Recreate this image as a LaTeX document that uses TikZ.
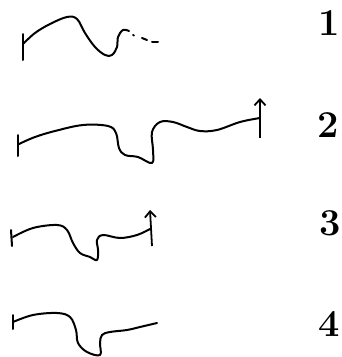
\documentclass[tikz,border=0pt]{standalone}
\usetikzlibrary{arrows.meta}
\tikzset{
  sketch/.style={line width=2pt, line cap=round, line join=round},
  tick/.style={line width=2pt, line cap=round},
  upar/.style={line width=1.8pt, -{Straight Barb[length=6pt,width=11pt,line width=1.8pt]}},
  numlabel/.style={font=\fontsize{38}{38}\selectfont\bfseries, inner sep=0pt}
}
\begin{document}
\begin{tikzpicture}[x=1pt,y=-1pt]
\useasboundingbox (0,0) rectangle (341,357);
% --- 1 ---
\draw[tick] (23,34) -- (23,60);
\draw[sketch] plot[smooth, tension=0.6] coordinates {(23,44) (35,33) (50,24) (67,17) (77,19) (85,33) (95,47) (105,55) (112,55) (117,47) (118,37) (123,30) (129,31)};
\draw[sketch] (133,35) -- (134,35.5);
\draw[sketch] (142,38) -- (147,40);
\draw[sketch] (152,42) -- (158,42);
\node[numlabel] (n1) at (329,23) {1};
% --- 2 ---
\draw[tick] (18,135) -- (18,156);
\draw[sketch] plot[smooth, tension=0.6] coordinates {(19,144) (35,137) (55,131) (83,125) (108,126) (116,133) (119,148) (125,155) (138,157) (152,163) (153,150) (152,132) (160,122) (173,122) (187,127) (200,131) (217,130) (240,122) (260,118)};
\coordinate (a2s) at (260,138);
\coordinate (a2e) at (260,98);
\draw[upar] (a2s) -- (a2e);
\node[numlabel] (n2) at (328,125) {2};
% --- 3 ---
\draw[tick] (11,230) -- (12,246);
\draw[sketch] plot[smooth, tension=0.6] coordinates {(13,237) (33,228) (57,225) (67,230) (73,243) (80,253) (90,257) (97,260) (98,250) (97,240) (103,235) (120,238) (137,235) (150,229)};
\coordinate (a3s) at (152,246);
\coordinate (a3e) at (150,210);
\draw[upar] (a3s) -- (a3e);
\node[numlabel] (n3) at (330,223) {3};
% --- 4 ---
\draw[tick] (13,315) -- (13,329);
\draw[sketch] plot[smooth, tension=0.6] coordinates {(13,322) (33,315) (57,313) (70,317) (76,330) (78,343) (87,352) (100,355) (100,343) (102,335) (110,332) (127,330) (140,327) (157,323)};
\node[numlabel] (n4) at (329,324) {4};
\end{tikzpicture}
\end{document}
